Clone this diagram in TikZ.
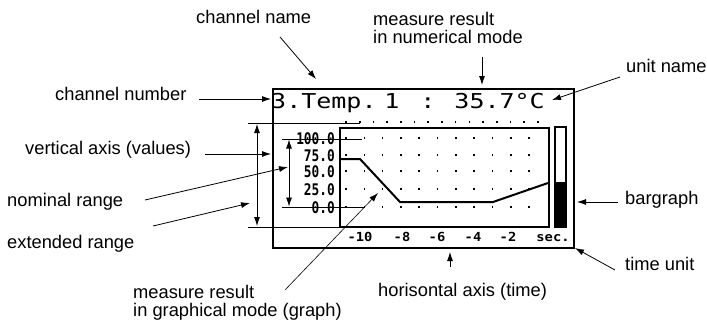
\documentclass[tikz,border=0pt]{standalone}
\usepackage{fontspec}
\setmainfont{Liberation Sans}
\newfontfamily\lcdfont{DejaVu Sans Mono}[FakeStretch=1.22]
\newfontfamily\lcdaxis{DejaVu Sans Mono Bold}[FakeStretch=0.8]
\newfontfamily\lcdtick{DejaVu Sans Mono Bold}[FakeStretch=1.1]
\usetikzlibrary{arrows.meta}
\begin{document}
\begin{tikzpicture}[x=1pt,y=-1pt,
  lbl/.style={font=\fontsize{18.3}{19}\selectfont, inner sep=0pt, anchor=base west},
  ann/.style={line width=0.8pt, -{Latex[length=9pt,width=6pt]}},
  dimarrow/.style={line width=0.8pt, {Latex[length=9pt,width=6pt]}-{Latex[length=9pt,width=6pt]}},
  thinline/.style={line width=0.8pt},
  frame/.style={draw, line width=2.2pt, inner sep=0pt, anchor=north west},
  lcdtxt/.style={font=\lcdfont\fontsize{20.5}{22}\selectfont, inner sep=0pt},
  ylab/.style={font=\lcdaxis\fontsize{16}{16}\selectfont, inner sep=0pt, anchor=base east},
  xlab/.style={font=\lcdtick\fontsize{12.5}{13}\selectfont, inner sep=0pt, anchor=base},
  dotmark/.style={fill=black},
  curve/.style={line width=2pt, line join=miter}
]
\useasboundingbox (0,0) rectangle (707,322);

% LCD frame, graph box and bargraph
\node[frame, minimum width=301pt, minimum height=159pt] (lcd) at (272,88) {};
\node[frame, minimum width=209pt, minimum height=99pt] (graph) at (339,127) {};
\node[frame, minimum width=11pt, minimum height=100pt] (bar) at (554,126) {};
\fill (554,182) rectangle (565,226);

% header text
\node[lcdtxt, anchor=base west] (hdrA) at (271,108) {3.Temp.};
\node[lcdtxt, anchor=base] (hdrN) at (392,108) {1};
\node[lcdtxt, anchor=base] (hdrB) at (428,108) {:};
\node[lcdtxt, anchor=base east] (hdrC) at (545,108) {35.7°C};

% dots
\foreach \xx in {0,...,14} {\fill[dotmark] ({346+13.7*\xx-0.8},121.2) rectangle +(1.6,1.6);}
\foreach \yy in {138,155,171,189,207} {
  \foreach \xx in {0,...,10} {\fill[dotmark] ({346+18.3*\xx-0.8},{\yy-0.8}) rectangle +(1.6,1.6);}
}

% y labels
\node[ylab] (y100) at (335,144) {100.0};
\node[ylab] (y75) at (335,161) {75.0};
\node[ylab] (y50) at (335,177) {50.0};
\node[ylab] (y25) at (335,195) {25.0};
\node[ylab] (y0) at (335,213) {0.0};

% x labels
\node[xlab] (x10) at (360,241) {-10};
\node[xlab] (x8) at (402,241) {-8};
\node[xlab] (x6) at (437,241) {-6};
\node[xlab] (x4) at (473,241) {-4};
\node[xlab] (x2) at (508,241) {-2};
\node[xlab] (xs) at (553,241) {sec.};

% measured curve
\draw[curve] (339,159) -- (360,159) -- (400,202) -- (493,202) -- (548,183);

% range lines
\draw[thinline] (248,123) -- (360,123);
\draw[thinline] (248,227) -- (357,227);
\draw[thinline] (282,139) -- (362,139);
\draw[thinline] (282,207) -- (365,207);
\coordinate (extT) at (257,124); \coordinate (extB) at (257,226);
\coordinate (nomT) at (289,139.5); \coordinate (nomB) at (289,206.5);
\draw[dimarrow] (extT) -- (extB);
\draw[dimarrow] (nomT) -- (nomB);

% labels
\node[lbl] (tChName) at (196,23) {channel name};
\node[lbl] (tChNum) at (55,100) {channel number};
\node[lbl] (tMr1) at (373,25) {measure result};
\node[lbl] (tMr2) at (373,43) {in numerical mode};
\node[lbl] (tUnit) at (626,72) {unit name};
\node[lbl] (tVert) at (25,154) {vertical axis (values)};
\node[lbl] (tNom) at (7,206) {nominal range};
\node[lbl] (tExt) at (7,248) {extended range};
\node[lbl] (tMg1) at (133,298) {measure result};
\node[lbl] (tMg2) at (133,316) {in graphical mode (graph)};
\node[lbl] (tHor) at (378,296) {horisontal axis (time)};
\node[lbl] (tBar) at (625,204) {bargraph};
\node[lbl] (tTime) at (625,270) {time unit};

% annotation arrows
\coordinate (cnS) at (280,37); \coordinate (cnE) at (316,79);
\coordinate (cnumS) at (199,99); \coordinate (cnumE) at (271,99);
\coordinate (mrS) at (482,57); \coordinate (mrE) at (482,85);
\coordinate (unS) at (620,77); \coordinate (unE) at (552,100);
\coordinate (vaS) at (205,154); \coordinate (vaE) at (271,154);
\coordinate (nrS) at (145,200); \coordinate (nrE) at (288,167);
\coordinate (erS) at (153,226); \coordinate (erE) at (250,203);
\coordinate (mgS) at (285,290); \coordinate (mgE) at (378,193);
\coordinate (haS) at (450,267); \coordinate (haE) at (450,252);
\coordinate (bgS) at (618,202); \coordinate (bgE) at (577,202);
\coordinate (tuS) at (615,270); \coordinate (tuE) at (575,248);
\draw[ann] (cnS) -- (cnE);
\draw[ann] (cnumS) -- (cnumE);
\draw[ann] (mrS) -- (mrE);
\draw[ann] (unS) -- (unE);
\draw[ann] (vaS) -- (vaE);
\draw[ann] (nrS) -- (nrE);
\draw[ann] (erS) -- (erE);
\draw[ann, line width=0.6pt] (mgS) -- (mgE);
\draw[ann] (haS) -- (haE);
\draw[ann] (bgS) -- (bgE);
\draw[ann] (tuS) -- (tuE);
\end{tikzpicture}
\end{document}
